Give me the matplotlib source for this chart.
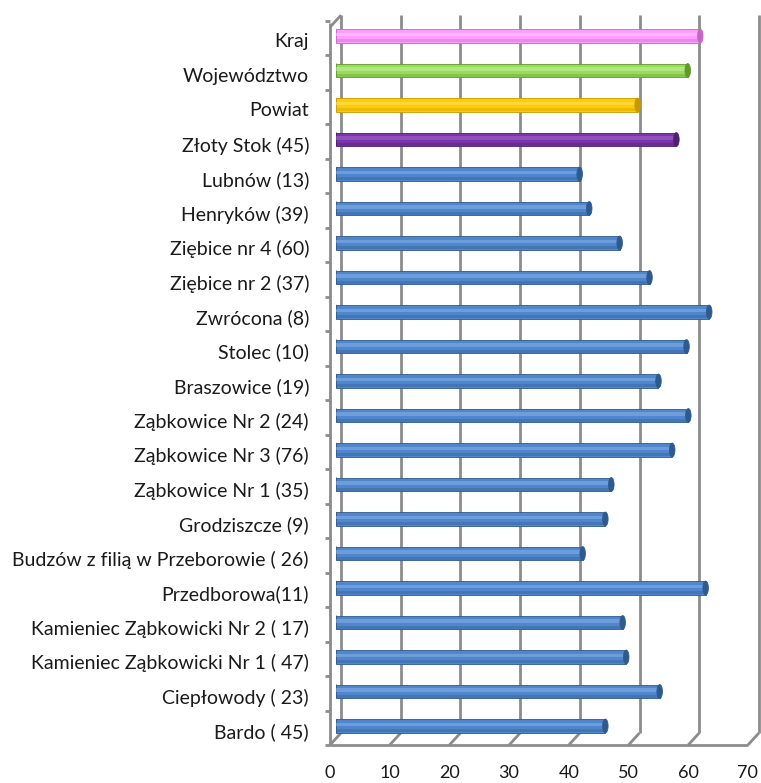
import numpy as np
import matplotlib.pyplot as plt
from matplotlib import transforms
from matplotlib.patches import Ellipse

# schools (bottom to top) and their scores
labels = ["Bardo ( 45)", "Ciepłowody ( 23)", "Kamieniec Ząbkowicki Nr 1 ( 47)",
          "Kamieniec Ząbkowicki Nr 2 ( 17)", "Przedborowa(11)",
          "Budzów z filią w Przeborowie ( 26)", "Grodziszcze (9)",
          "Ząbkowice Nr 1 (35)", "Ząbkowice Nr 3 (76)", "Ząbkowice Nr 2 (24)",
          "Braszowice (19)", "Stolec (10)", "Zwrócona (8)", "Ziębice nr 2 (37)",
          "Ziębice nr 4 (60)", "Henryków (39)", "Lubnów (13)", "Złoty Stok (45)",
          "Powiat", "Województwo", "Kraj"]
values = [45.2, 54.3, 48.7, 48.1, 62.0, 41.4, 45.2, 46.2, 56.4, 59.1, 54.1,
          58.8, 62.6, 52.6, 47.6, 42.5, 40.9, 57.1, 50.6, 59.0, 61.1]

blue = ("#4f86cc", "#8cb6ea", "#2f5a8e")
colors = [blue] * 17 + [("#7a33a8", "#a86ccc", "#4d2070"),
                        ("#ffcc00", "#ffe37a", "#c99a00"),
                        ("#98dc5c", "#c8f2a0", "#60992e"),
                        ("#ff9cff", "#ffd2ff", "#c466c4")]

W, H = 761, 783
fig = plt.figure(figsize=(W / 100, H / 100), dpi=100)
x0, y0 = 335.5, 726.0
xs, ys = 5.97, 34.5
ax = fig.add_axes([x0 / W, (H - 743.25) / H, 70 * xs / W, 21 * ys / H])
ax.set_xlim(0, 70)
ax.set_ylim(-0.5, 20.5)
ax.axis('off')

front = transforms.offset_copy(ax.transData, fig=fig, x=-5.5, y=-6, units='dots')
back = transforms.offset_copy(ax.transData, fig=fig, x=5.5, y=6, units='dots')
grid = dict(color="#8c8c8c", lw=2, clip_on=False, solid_capstyle='butt')

floor_y = -0.377
top_back = 20.43
top_front = 20.55

# back wall gridlines and floor diagonals
for k in range(0, 71, 10):
    ax.plot([k, k], [floor_y, top_back], transform=back, **grid)
    ax.plot([k - 11 / xs, k], [floor_y - 12 / ys, floor_y],
            transform=back, **grid)
ax.plot([0, 70], [floor_y, floor_y], transform=front, **grid)
# left wall
ax.plot([0, 0], [floor_y, top_front], transform=front, **grid)
ax.plot([-11 / xs, 0], [top_back - 12 / ys, top_back], transform=back, **grid)
for k in range(22):
    ax.plot([-5 / xs, 0], [floor_y + k, floor_y + k], transform=front, **grid)

# cylinder bars
h = 0.40
cap_w = 5.5 / xs
txt = transforms.offset_copy(ax.transData, fig=fig, x=-26.5, y=-6, units='dots')
for i, (v, c) in enumerate(zip(values, colors)):
    mid, light, dark = c
    ax.add_patch(Ellipse((0, i), cap_w, h, facecolor=mid, edgecolor=dark,
                         lw=0.6, zorder=3))
    ax.barh(i, v, height=h, color=mid, edgecolor=dark, linewidth=0.6, zorder=3)
    ax.barh(i - h * 0.35, v, height=h * 0.2, color=dark, alpha=0.35,
            linewidth=0, zorder=4)
    ax.barh(i + h * 0.12, v, height=h * 0.25, color=light, alpha=0.5,
            linewidth=0, zorder=4)
    ax.add_patch(Ellipse((v, i), cap_w, h, facecolor=dark, edgecolor=dark,
                         lw=0.6, zorder=5))
    ax.text(0, i, labels[i], transform=txt, ha='right', va='center',
            fontsize=14, family='Lato', color="#1a1a1a")

# x tick labels sit on the front edge of the floor
lab = transforms.offset_copy(ax.transData, fig=fig, x=-5.5, y=-34, units='dots')
for k in range(0, 71, 10):
    ax.text(k, floor_y, str(k), transform=lab, ha='center', va='center',
            fontsize=13, family='Lato', color="#1a1a1a")

fig.savefig("out.png", dpi=100)
